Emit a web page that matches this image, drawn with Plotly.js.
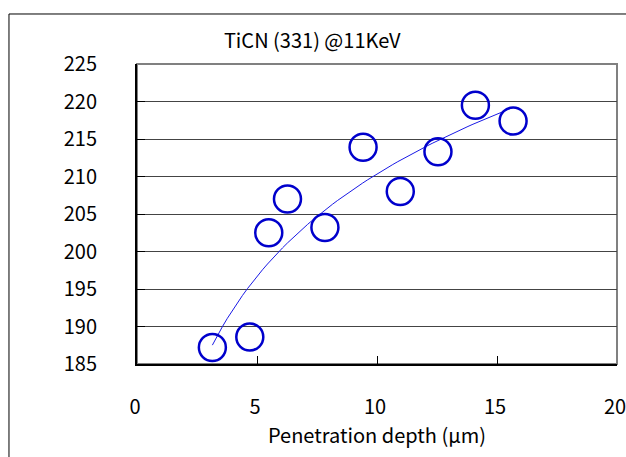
<!DOCTYPE html>
<html><head><meta charset="utf-8">
<script src="https://cdn.plot.ly/plotly-3.0.1.min.js"></script>
<style>body{margin:0;background:#fff}#c{width:626px;height:457px}</style>
</head><body><div id="c"></div>
<script>
const depth = [3.14, 4.70, 5.49, 6.27, 7.83, 9.42, 10.97, 12.54, 14.10, 15.67];
const value = [187.2, 188.6, 202.5, 207.0, 203.2, 213.9, 208.0, 213.3, 219.5, 217.4];
const xTicks = [0, 5, 10, 15, 20];
const yTicks = [185, 190, 195, 200, 205, 210, 215, 220, 225];

// Logarithmic trendline (least squares y = a ln x + b), as in the spreadsheet
const lx = depth.map(Math.log);
const n = depth.length;
const mx = lx.reduce((s, v) => s + v, 0) / n;
const my = value.reduce((s, v) => s + v, 0) / n;
let sxy = 0, sxx = 0;
for (let i = 0; i < n; i++) { sxy += (lx[i] - mx) * (value[i] - my); sxx += (lx[i] - mx) ** 2; }
const a = sxy / sxx, b = my - a * mx;
const xmin = Math.min(...depth), xmax = Math.max(...depth);
const trendX = [], trendY = [];
for (let i = 0; i <= 60; i++) { const x = xmin + (xmax - xmin) * i / 60; trendX.push(x); trendY.push(a * Math.log(x) + b); }

const FONT = '"Noto Sans CJK JP", "Liberation Sans", sans-serif';
const data = [
  {x: trendX, y: trendY, mode: 'lines', line: {color: '#1a1ae6', width: 1}, hoverinfo: 'skip', showlegend: false},
  {x: depth, y: value, mode: 'markers', showlegend: false,
   marker: {symbol: 'circle-open', size: 27, color: '#0000cc', line: {color: '#0000cc', width: 2.5}}}
];
const layout = {
  width: 626, height: 457,
  margin: {l: 137, r: 9, t: 64, b: 93},
  paper_bgcolor: '#fff', plot_bgcolor: '#fff',
  font: {family: FONT, size: 20, color: '#000'},
  showlegend: false,
  title: {text: 'TiCN (331) @11KeV', font: {family: FONT, size: 20, color: '#000'},
          xref: 'paper', x: 0.365, xanchor: 'center', yref: 'container', y: 1 - 41/457, yanchor: 'middle'},
  xaxis: {range: [0, 20], tickvals: xTicks, ticktext: xTicks.map(String), showgrid: false, zeroline: false,
          ticks: 'inside', ticklen: 8, tickcolor: '#000', tickwidth: 1, ticklabeloverflow: 'allow',
          ticklabelshift: -2,
          showline: true, linecolor: '#000', linewidth: 2, ticklabelstandoff: 24,
          title: {text: 'Penetration depth (μm)', font: {family: FONT, size: 20}, standoff: 8}},
  yaxis: {range: [185, 225], tickvals: yTicks, ticktext: yTicks.map(String), showgrid: true,
          gridcolor: '#444', gridwidth: 1, zeroline: false,
          ticks: 'inside', ticklen: 8, tickcolor: '#000', tickwidth: 1,
          showline: true, linecolor: '#000', linewidth: 2, ticklabelstandoff: 34},
  shapes: [
    {type: 'rect', xref: 'paper', yref: 'paper', x0: 0, x1: 1, y0: 0, y1: 1, line: {color: '#808080', width: 2}, layer: 'below'},
    {type: 'path', xref: 'paper', yref: 'paper', path: 'M -0.2667 -0.4 L -0.2667 1.1667 L 1.3 1.1667', line: {color: '#000', width: 1}}
  ]
};
Plotly.newPlot('c', data, layout, {displayModeBar: false, staticPlot: true});
</script></body></html>
